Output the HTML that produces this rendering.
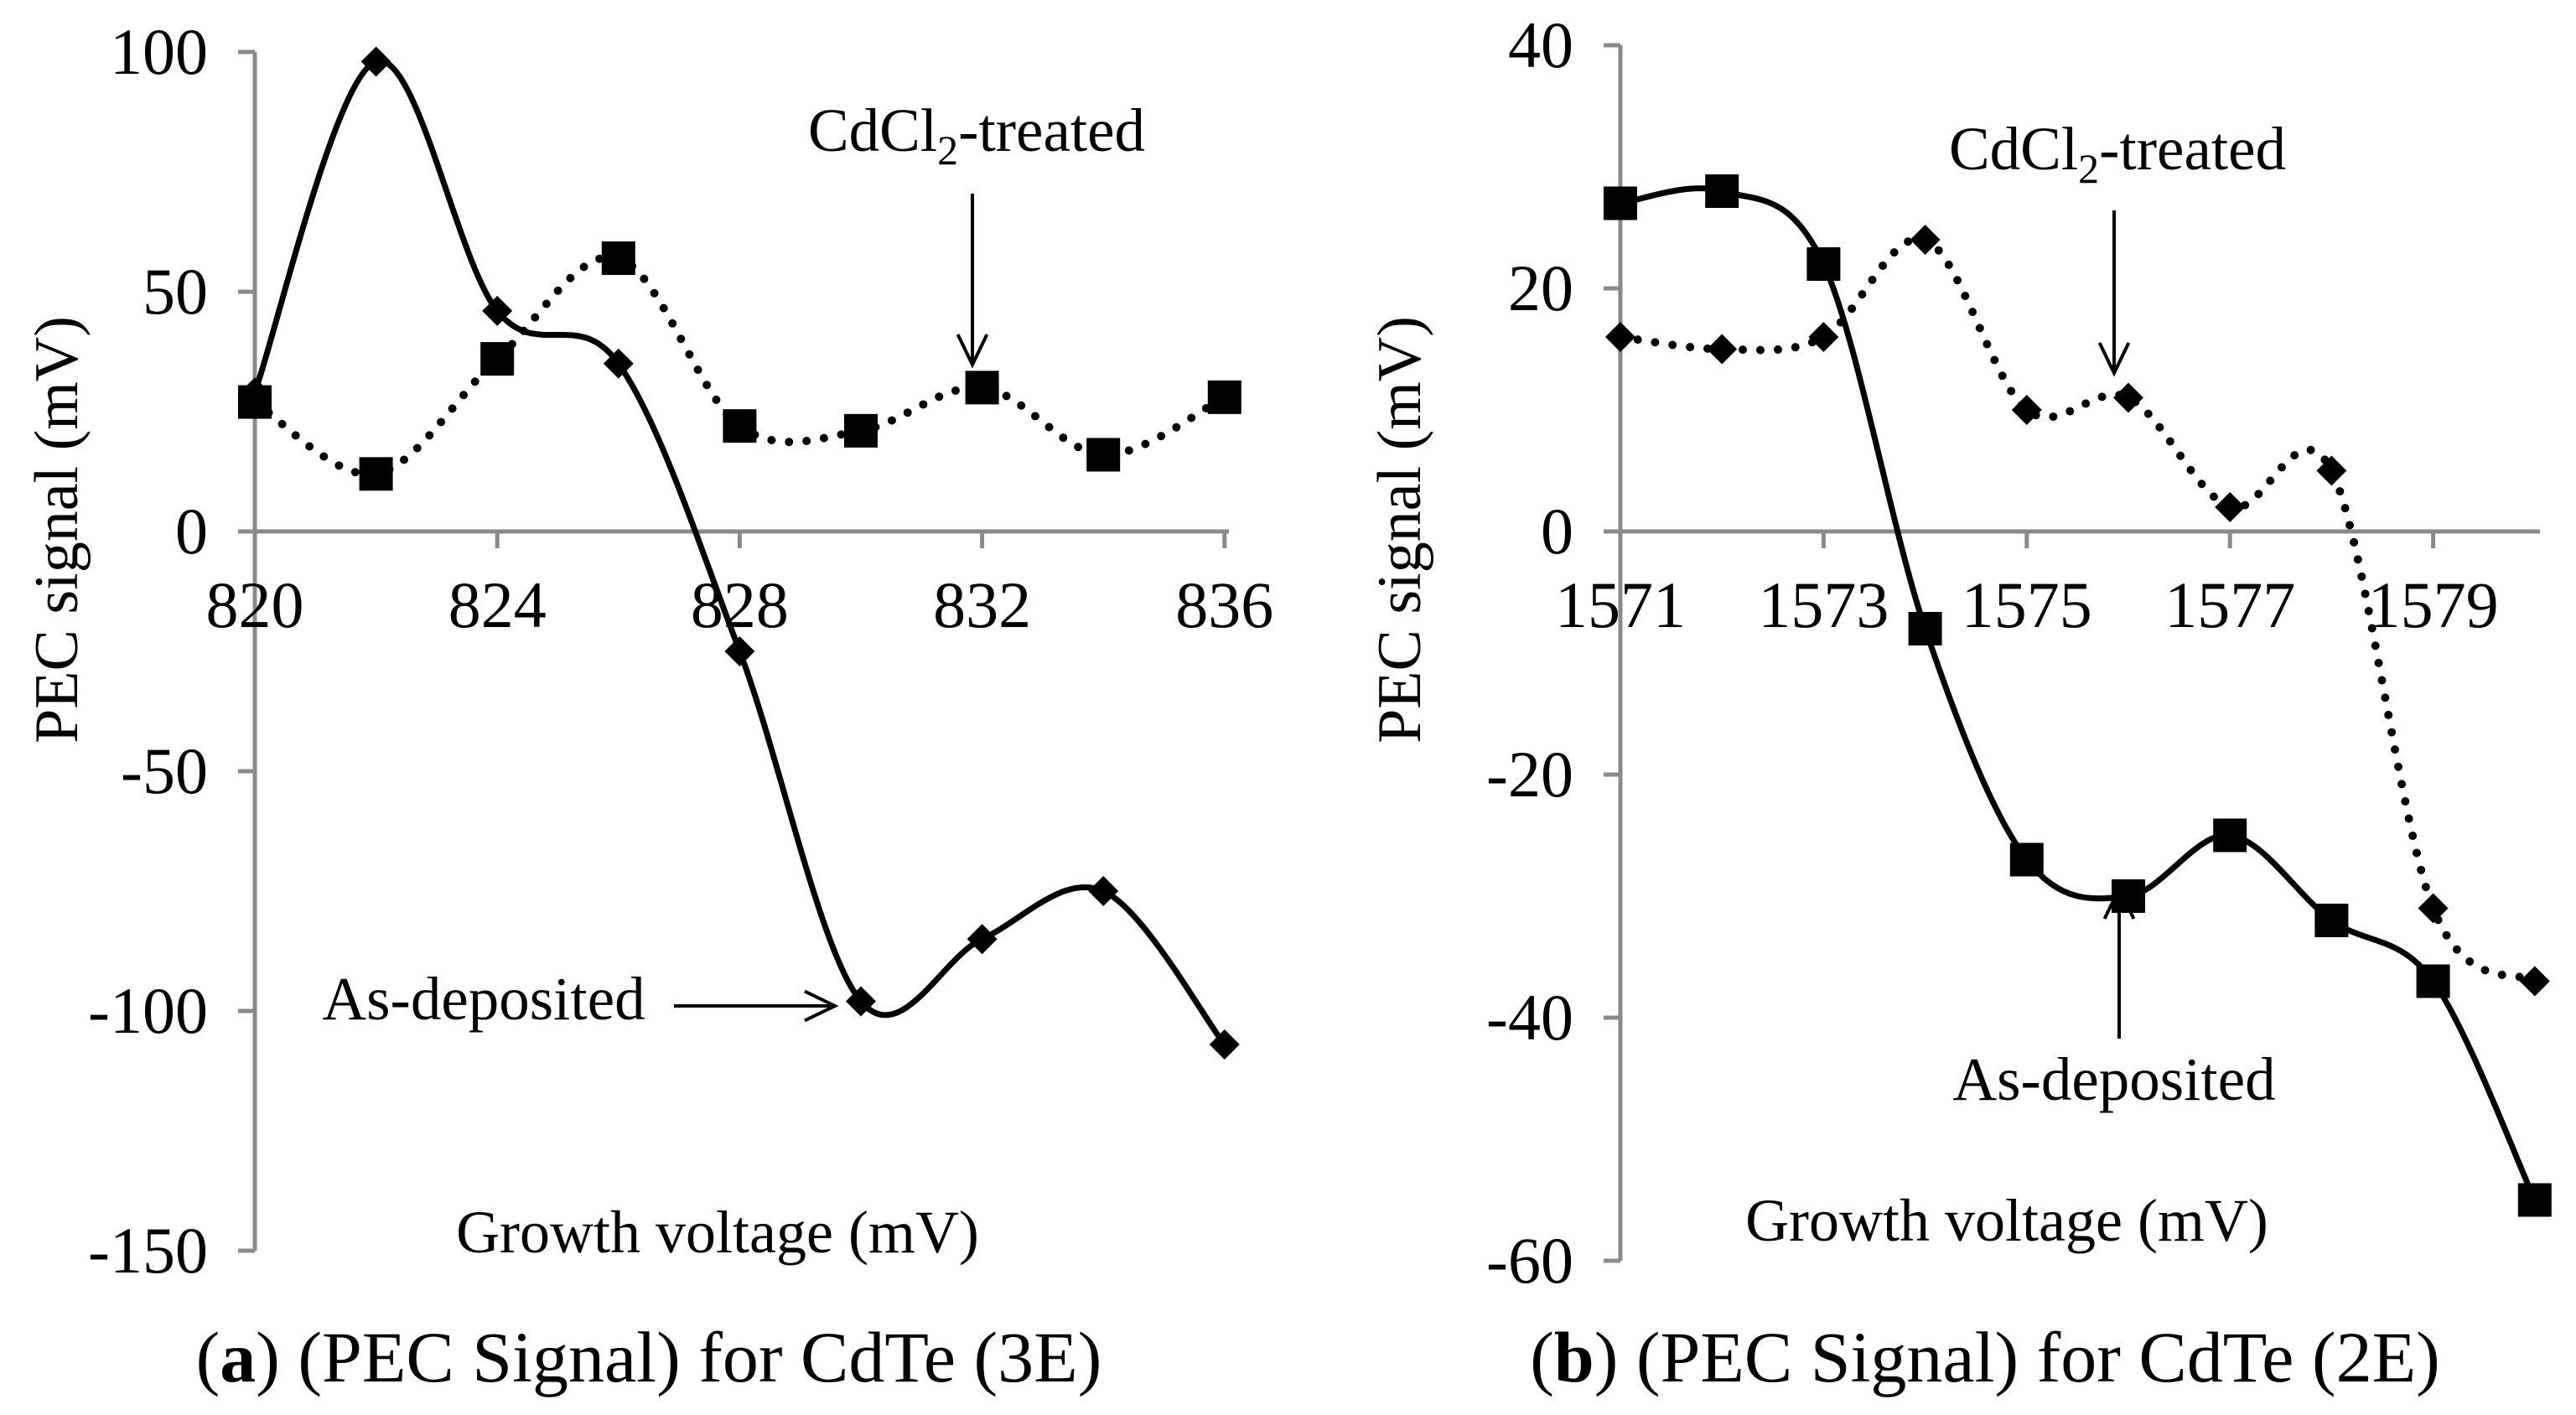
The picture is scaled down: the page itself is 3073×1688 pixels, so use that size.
<!DOCTYPE html>
<html><head><meta charset="utf-8"><style>
html,body{margin:0;padding:0;background:#fff;}
svg{display:block;}
text{font-family:"Liberation Serif",serif;fill:#000;}
</style></head><body>
<svg id="chart" width="3073" height="1688" viewBox="0 0 3073 1688" xmlns="http://www.w3.org/2000/svg"></svg>
<script>
// ---- Panel (a) data ----
const xA = [820, 822, 824, 826, 828, 830, 832, 834, 836];
const asDepA = [29, 98, 46, 35, -25, -98, -85, -75, -107];
const treatedA = [27, 12, 36, 57, 22, 21, 30, 16, 28];
const yTicksA = [100, 50, 0, -50, -100, -150];
const xTicksA = [820, 824, 828, 832, 836];
// ---- Panel (b) data ----
const xB = [1571, 1572, 1573, 1574, 1575, 1576, 1577, 1578, 1579, 1580];
const asDepB = [27, 28, 22, -8, -27, -30, -25, -32, -37, -55];
const treatedB = [16, 15, 16, 24, 10, 11, 2, 5, -31, -37];
const yTicksB = [40, 20, 0, -20, -40, -60];
const xTicksB = [1571, 1573, 1575, 1577, 1579];

const NS = "http://www.w3.org/2000/svg";
const svg = document.getElementById('chart');
function mk(tag, attrs, parent){const e=document.createElementNS(NS,tag);for(const k in attrs)e.setAttribute(k,attrs[k]);(parent||svg).appendChild(e);return e;}

function smoothPath(pts){
  let d = `M${pts[0][0]},${pts[0][1]}`;
  for(let i=0;i<pts.length-1;i++){
    const p0=pts[Math.max(0,i-1)],p1=pts[i],p2=pts[i+1],p3=pts[Math.min(pts.length-1,i+2)];
    const t=1/6;
    const c1=[p1[0]+(p2[0]-p0[0])*t,p1[1]+(p2[1]-p0[1])*t];
    const c2=[p2[0]-(p3[0]-p1[0])*t,p2[1]-(p3[1]-p1[1])*t];
    d+=` C${c1[0]},${c1[1]} ${c2[0]},${c2[1]} ${p2[0]},${p2[1]}`;
  }
  return d;
}

function panel(cfg){
  const g = mk('g',{});
  
  
  const xs = v => cfg.x0 + (v - cfg.xmin) * cfg.xs;
  const ys = v => cfg.y0 - v * cfg.ys;
  const gray = '#8a8a8a';
  const ya = mk('line',{x1:cfg.x0,y1:ys(cfg.ymax),x2:cfg.x0,y2:ys(cfg.ymin),stroke:gray,'stroke-width':5},g);
  
  
  const xa = mk('line',{x1:cfg.x0-20,y1:ys(0),x2:cfg.xEnd,y2:ys(0),stroke:gray,'stroke-width':5},g);
  
  
  cfg.yTicks.forEach(v=>{
    const t=mk('line',{x1:cfg.x0-20,y1:ys(v),x2:cfg.x0,y2:ys(v),stroke:gray,'stroke-width':5},g);
    
    
    const l=mk('text',{x:cfg.x0-56,y:ys(v)+26,'text-anchor':'end','font-size':78},g);
    l.textContent=v;
    
    
  });
  cfg.xTicks.forEach(v=>{
    const t=mk('line',{x1:xs(v),y1:ys(0),x2:xs(v),y2:ys(0)+20,stroke:gray,'stroke-width':5},g);
    
    
    const l=mk('text',{x:xs(v),y:ys(0)+114,'text-anchor':'middle','font-size':78},g);
    l.textContent=v;
    
    
  });
  function series(vals, dotted, marker, nm){
    const pts = cfg.xv.map((x,i)=>[xs(x),ys(vals[i])]);
    const p = mk('path',{d:smoothPath(pts),fill:'none',stroke:'#000','stroke-width':dotted?10:7,
      'stroke-dasharray':dotted?'0 21':'none','stroke-linecap':'round'},g);
    
    
    pts.forEach(pt=>{
      let m;
      if(marker==='square'){m=mk('rect',{x:pt[0]-20,y:pt[1]-20,width:40,height:40,fill:'#000'},g);}
      else {m=mk('polygon',{points:`${pt[0]},${pt[1]-18} ${pt[0]+18},${pt[1]} ${pt[0]},${pt[1]+18} ${pt[0]-18},${pt[1]}`,fill:'#000'},g);}
      
      
    });
  }
  series(cfg.treated, true, cfg.treatedMarker, 'cdcl2-treated');
  series(cfg.asDep, false, cfg.asDepMarker, 'as-deposited');
  return g;
}

panel({name:'panel-a',x0:304,y0:634,xmin:820,xs:72.3,ys:5.72,ymax:100,ymin:-150,xEnd:1466,
  yTicks:yTicksA,xTicks:xTicksA,xv:xA,asDep:asDepA,treated:treatedA,asDepMarker:'diamond',treatedMarker:'square'});
panel({name:'panel-b',x0:1933,y0:634,xmin:1571,xs:121.2,ys:14.5,ymax:40,ymin:-60,xEnd:3030,
  yTicks:yTicksB,xTicks:xTicksB,xv:xB,asDep:asDepB,treated:treatedB,asDepMarker:'square',treatedMarker:'diamond'});

function txt(x,y,s,size,anchor,name,rot){
  const t=mk('text',{x:x,y:y,'font-size':size,'text-anchor':anchor||'middle'});
  if(rot) t.setAttribute('transform',`rotate(-90 ${x} ${y})`);
  t.innerHTML=s;
  
  
  return t;
}
function arrow(x1,y1,x2,y2,name){
  const g=mk('g',{});
  
  
  mk('line',{x1,y1,x2,y2,stroke:'#000','stroke-width':4},g);
  const a=Math.atan2(y2-y1,x2-x1),L=40,w=0.45;
  mk('polyline',{points:`${x2-L*Math.cos(a-w)},${y2-L*Math.sin(a-w)} ${x2},${y2} ${x2-L*Math.cos(a+w)},${y2-L*Math.sin(a+w)}`,fill:'none',stroke:'#000','stroke-width':4},g);
}
txt(92,632,'PEC signal (mV)',74,'middle','y-axis-title-a',true);
txt(1694,632,'PEC signal (mV)',74,'middle','y-axis-title-b',true);
txt(856,1494,'Growth voltage (mV)',72,'middle','x-axis-title-a');
txt(2394,1480,'Growth voltage (mV)',72,'middle','x-axis-title-b');
txt(1165,180,'CdCl<tspan font-size="50" dy="16">2</tspan><tspan dy="-16">-treated</tspan>',73,'middle','cdcl2-label-a');
arrow(1160,231,1160,435,'cdcl2-arrow-a');
txt(577,1216,'As-deposited',73,'middle','as-deposited-label-a');
arrow(804,1200,996,1200,'as-deposited-arrow-a');
txt(2526,202,'CdCl<tspan font-size="50" dy="16">2</tspan><tspan dy="-16">-treated</tspan>',73,'middle','cdcl2-label-b');
arrow(2522,251,2522,445,'cdcl2-arrow-b');
txt(2522,1312,'As-deposited',73,'middle','as-deposited-label-b');
arrow(2528,1239,2528,1060,'as-deposited-arrow-b');
txt(774,1648,'(<tspan font-weight="bold">a</tspan>) (PEC Signal) for CdTe (3E)',86,'middle','caption-a');
txt(2368,1648,'(<tspan font-weight="bold">b</tspan>) (PEC Signal) for CdTe (2E)',86,'middle','caption-b');
</script>
</body></html>
